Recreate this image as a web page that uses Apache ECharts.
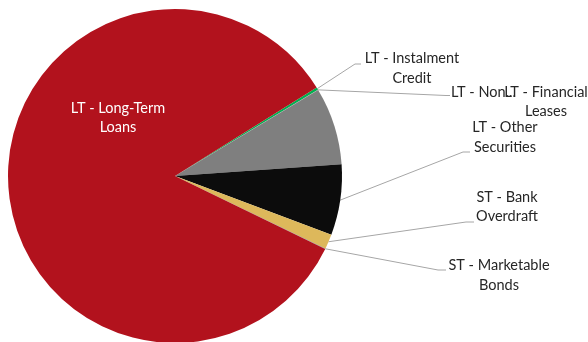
<!DOCTYPE html>
<html>
<head>
<meta charset="utf-8">
<script src="https://cdn.jsdelivr.net/npm/echarts@6/dist/echarts.min.js"></script>
<style>
  html, body { margin: 0; padding: 0; background: #fff; }
  #chart { width: 588px; height: 342px; }
</style>
</head>
<body>
<div id="chart"></div>
<script>
// Funding mix, share of total (%), clockwise from the instalment-credit slice
const categories = [
  'LT - Instalment Credit',
  'LT - Non...',
  'LT - Financial Leases',
  'LT - Other Securities',
  'ST - Bank Overdraft',
  'ST - Marketable Bonds',
  'LT - Long-Term Loans'
];
const labelTexts = [
  'LT - Instalment\nCredit',
  'LT - Non...',
  'LT - Financial\nLeases',
  'LT - Other\nSecurities',
  'ST - Bank\nOverdraft',
  'ST - Marketable\nBonds',
  'LT - Long-Term\nLoans'
];
const shares = [0.25, 0.03, 7.5, 6.83, 1.44, 0.03, 83.92];

const colors = ['#00B050', '#A5A5A5', '#7F7F7F', '#0C0C0C', '#DDB85B', '#4472C4', '#B2121D'];

// Label placement: centre of each text block, plus the bend of its leader line
const labelSpots = [
  { x: 412, y: 68.5, bend: [[355, 64], [361, 64]] },
  { x: 451, y: 92, align: 'left', bend: [[446, 95.5], [450, 95.5]] },
  { x: 546, y: 102, bend: null },
  { x: 505, y: 137.5, bend: [[463, 152], [470, 152]] },
  { x: 507, y: 207, bend: [[466, 222], [474, 222]] },
  { x: 499, y: 275.5, bend: [[438, 270], [446, 270]] },
  { x: 118, y: 118, bend: null }
];

const chart = echarts.init(document.getElementById('chart'), null, { renderer: 'canvas' });

const seriesData = categories.map((name, i) => {
  const item = { name: name, value: shares[i], itemStyle: { color: colors[i] } };
  if (!labelSpots[i].bend) item.labelLine = { show: false };
  if (i === categories.length - 1) item.label = { color: '#FFFFFF' };
  return item;
});

chart.setOption({
  animation: false,
  series: [{
    type: 'pie',
    center: [175, 176],
    radius: 167,
    startAngle: 32,
    clockwise: true,
    avoidLabelOverlap: false,
    emphasis: { disabled: true },
    itemStyle: { borderWidth: 0 },
    label: {
      show: true,
      position: 'outside',
      formatter: p => labelTexts[p.dataIndex],
      fontFamily: 'Lato',
      fontSize: 14.5,
      lineHeight: 19.5,
      color: '#262626',
      align: 'center'
    },
    labelLine: {
      show: true,
      length: 10,
      length2: 10,
      lineStyle: { color: '#A6A6A6', width: 1 }
    },
    labelLayout: function (p) {
      const s = labelSpots[p.dataIndex];
      const out = { x: s.x, y: s.y, align: s.align || 'center', verticalAlign: 'middle' };
      if (s.bend && p.labelLinePoints) {
        out.labelLinePoints = [p.labelLinePoints[0]].concat(s.bend);
      }
      return out;
    },
    data: seriesData
  }]
});
</script>
</body>
</html>
